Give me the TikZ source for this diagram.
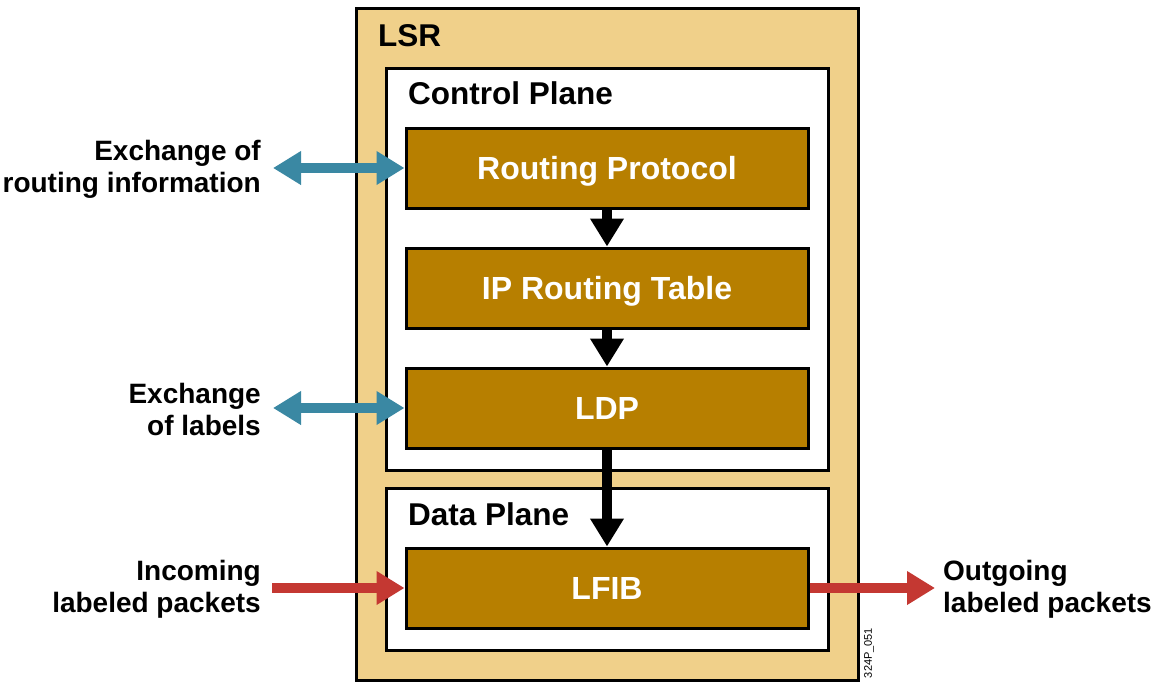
\documentclass[tikz,border=0pt]{standalone}
\usepackage{fontspec}
\setmainfont{Liberation Sans}
\usetikzlibrary{positioning,arrows.meta}
\definecolor{lsrtan}{RGB}{240,208,138}
\definecolor{stagebrown}{RGB}{183,127,0}
\definecolor{xchgblue}{RGB}{58,136,163}
\definecolor{pktred}{RGB}{196,56,50}

\tikzset{
  frame/.style={draw, line width=3pt},
  planebox/.style={frame, fill=white, minimum width=442pt},
  stage/.style={frame, fill=stagebrown, text=white, font=\bfseries\fontsize{32}{36}\selectfont, text height=23pt, text depth=0pt, minimum width=402pt, minimum height=80pt},
  title/.style={anchor=base west, inner sep=0, font=\bfseries\fontsize{31.5}{36}\selectfont},
  sidelabel/.style={align=right, anchor=east, inner sep=0, font=\bfseries\fontsize{28}{32}\selectfont},
  flow/.style={line width=10pt, -{Triangle[width=32pt,length=28pt]}},
  xchg/.style={xchgblue, line width=10pt, {Triangle[width=32pt,length=28pt]}-{Triangle[width=32pt,length=28pt]}},
  pkt/.style={pktred, line width=10pt, -{Triangle[width=32pt,length=28pt]}},
}

\begin{document}
\begin{tikzpicture}[x=1pt, y=-1pt]
    \useasboundingbox (0,0) rectangle (1159,689);

    % frames
    \node [frame, fill=lsrtan, minimum width=502pt, minimum height=672pt] (lsr) at (607,344) {};
    \node [planebox, minimum height=402pt] (control) at (607,269) {};
    \node [planebox, minimum height=162pt] (data) at (607,569) {};

    \node [title] (lsr_title) at (378,46) {LSR};
    \node [title] (control_title) at (408,104) {Control Plane};
    \node [title] (data_title) at (408,525) {Data Plane};

    % stages
    \node [stage] (routing) at (607,168) {Routing Protocol};
    \node [stage, below=37pt of routing] (iptable) {IP Routing Table};
    \node [stage, below=37pt of iptable] (ldp) {LDP};
    \node [stage] (lfib) at (607,588) {LFIB};

    \draw[flow] (routing) -- (iptable);
    \draw[flow] (iptable) -- (ldp);
    \draw[flow] (ldp) -- (lfib);

    % outside
    \node [sidelabel] (routing_info) at (261,169) {Exchange of\\routing information};
    \node [sidelabel] (labels_info) at (261,409) {Exchange\\of labels};
    \node [sidelabel] (incoming) at (261,589) {Incoming\\labeled packets};
    \node [sidelabel, align=left, anchor=west] (outgoing) at (943,589) {Outgoing\\labeled packets};

    \draw[xchg, shorten <=12pt] (routing_info.east |- routing.west) -- (routing.west);
    \draw[xchg, shorten <=12pt] (labels_info.east |- ldp.west) -- (ldp.west);
    \draw[pkt, shorten <=11pt] (incoming.east |- lfib.west) -- (lfib.west);
    \draw[pkt, shorten >=8pt] (lfib.east) -- (outgoing.west |- lfib.east);

    \node [rotate=90, inner sep=0, font=\fontsize{11}{12}\selectfont] (code) at (869,653) {324P\_051};
\end{tikzpicture}
\end{document}
